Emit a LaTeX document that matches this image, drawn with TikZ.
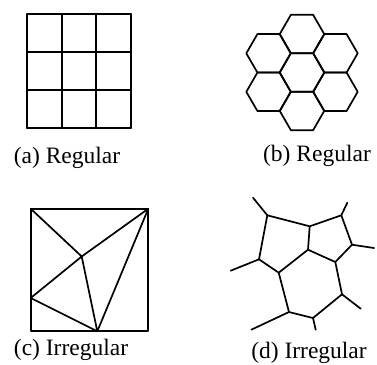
\documentclass[tikz,border=0pt]{standalone}
\usepackage{fontspec}
\setmainfont{Liberation Serif}
\tikzset{
    mesh/.style={line width=1.7pt, line join=round, line cap=round},
    caption/.style={anchor=base, inner sep=0pt, font=\fontsize{23.5}{28}\selectfont},
}
\begin{document}
\begin{tikzpicture}[x=1pt, y=-1pt]
    \useasboundingbox (0,0) rectangle (377,364);

    % (a) square grid
    \foreach \i in {0,...,3} {
        \draw [mesh]
            ({27+\i*34.67},14) -- ({27+\i*34.67},128)
            ;
        \draw [mesh]
            (27,{14+\i*38}) -- (131,{14+\i*38})
            ;
    }
    \node [caption] (capa) at (67,163) {(a) Regular};

    % (b) hexagons
    \foreach \cx/\cy in {302/72.5, 302/34, 302/111, 268.5/53.3, 335.5/53.3, 268.5/91.8, 335.5/91.8} {
        \draw [mesh]
            ({\cx+22.2},\cy)
            \foreach \a in {60,120,...,300} { -- ({\cx+22.2*cos(\a)},{\cy+22.2*sin(\a)}) }
            -- cycle
            ;
    }
    \node [caption] (capb) at (317,161) {(b) Regular};

    % (c) triangulation
    \coordinate (tl) at (30.7,208.7);
    \coordinate (tr) at (148.3,208.7);
    \coordinate (bl) at (30.7,331.3);
    \coordinate (br) at (148.3,331.3);
    \coordinate (p) at (81.7,256.5);
    \coordinate (l) at (30.7,298);
    \coordinate (b) at (97.3,331.3);
    \draw [mesh]
        (tl) -- (tr) -- (br) -- (bl) -- cycle
        ;
    \draw [mesh]
        (tl) -- (p) -- (tr)
        (l) -- (p) -- (b)
        (l) -- (b) -- (tr)
        ;
    \node [caption] (capc) at (71,355.5) {(c) Irregular};

    % (d) voronoi cells
    \coordinate (va) at (267.3,215.3);
    \coordinate (vb) at (309.7,226.3);
    \coordinate (vc) at (341.3,215.3);
    \coordinate (vd) at (352,244.7);
    \coordinate (ve) at (335.3,262);
    \coordinate (vf) at (308,249.7);
    \coordinate (vg) at (278.7,272.7);
    \coordinate (vh) at (259,259.3);
    \coordinate (vi) at (342,294.3);
    \coordinate (vj) at (313,318);
    \coordinate (vk) at (289,312);
    \draw [mesh]
        (va) -- (vb) -- (vc) -- (vd) -- (ve) -- (vf) -- (vb)
        (vf) -- (vg) -- (vh) -- (va)
        (vg) -- (vk) -- (vj) -- (vi) -- (ve)
        ;
    \draw [mesh]
        (va) -- (253,197.7)
        (vc) -- (347.3,202.7)
        (vd) -- (374,248)
        (vh) -- (230.7,270.7)
        (vi) -- (360.7,308.7)
        (vj) -- (315.7,329.7)
        (vk) -- (251.3,329.7)
        ;
    \node [caption] (capd) at (309,358.5) {(d) Irregular};
\end{tikzpicture}
\end{document}
